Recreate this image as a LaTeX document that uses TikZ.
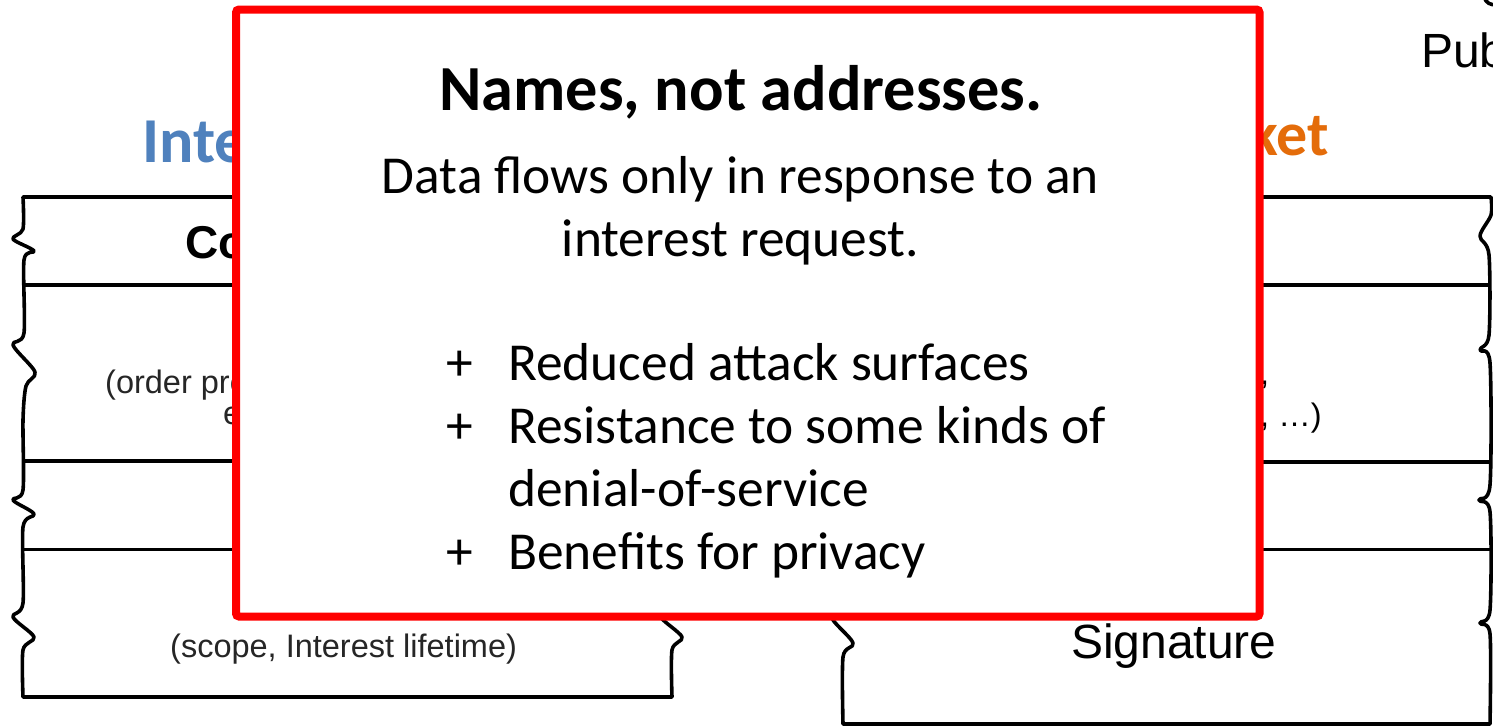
\documentclass[tikz,border=0pt]{standalone}
\usepackage{fontspec}
\setmainfont{Carlito}
\newfontfamily\arialfont{Liberation Sans}
\definecolor{intblue}{HTML}{4F81BD}
\definecolor{dataorange}{HTML}{E46C0A}
\definecolor{calloutred}{HTML}{FF0000}
\tikzset{
  torn/.style={line width=3.6pt, line join=round, line cap=round},
  fieldrule/.style={line width=4pt},
  thinrule/.style={line width=3pt},
  smallfrag/.style={font=\arialfont\fontsize{32.5}{32.5}\selectfont, text=black!85, inner sep=0pt, anchor=base west},
  bigfrag/.style={font=\arialfont\fontsize{48}{48}\selectfont, inner sep=0pt, anchor=base west},
  boldfrag/.style={font=\arialfont\bfseries\fontsize{46}{46}\selectfont, inner sep=0pt, anchor=base west},
  heading/.style={font=\bfseries\fontsize{64}{64}\selectfont, inner sep=0pt, anchor=base west},
  calloutbox/.style={draw=calloutred, line width=8pt, fill=white, rounded corners=3pt, inner sep=0pt},
  headline/.style={font=\bfseries\fontsize{64.3}{64.3}\selectfont, inner sep=0pt, anchor=base},
  bodyline/.style={font=\fontsize{53.4}{53.4}\selectfont, inner sep=0pt, anchor=base},
  plussign/.style={font=\fontsize{53.4}{53.4}\selectfont, inner sep=0pt, anchor=base},
  itemline/.style={font=\fontsize{53.4}{53.4}\selectfont, inner sep=0pt, anchor=base west},
}
\begin{document}
\begin{tikzpicture}[x=1pt, y=-1pt]
\useasboundingbox (0,0) rectangle (1493,726);
\clip (0,0) rectangle (1493,726);
\fill[white] (0,0) rectangle (1493,726);

% ---------- Interest packet (left) ----------
\draw[torn] plot[smooth, tension=0.5] coordinates {
  (23,197) (23,229) (13,239) (34,251) (24,260) (24,333) (13,345) (35,372)
  (26,386) (23,420) (23,490) (13,500) (34,514) (23,527) (23,603) (13,617)
  (34,637) (23,650) (23,697)};
\draw[torn] plot[smooth, tension=0.5] coordinates {
  (672,197) (672,229) (661,239) (682,251) (672,260) (672,333) (661,345)
  (683,372) (674,386) (672,420) (672,490) (661,500) (682,514) (672,527)
  (672,605) (661,617) (682,637) (672,650) (672,697)};
\draw[fieldrule] (23,197) -- (672,197);
\draw[fieldrule] (23,285) -- (672,285);
\draw[fieldrule] (23,461) -- (672,461);
\draw[thinrule]  (23,549) -- (672,549);
\draw[fieldrule] (23,697) -- (672,697);

\node[heading, text=intblue] (inthead) at (142,162) {Inte};
\node[boldfrag] (intname) at (185,258) {Co};
\node[smallfrag] (intsel1) at (105,393) {(order pre};
\node[smallfrag] (intsel2) at (223,424) {e};
\node[smallfrag] (intguide) at (170,657) {(scope, Interest lifetime)};

% ---------- Data packet (right) ----------
\draw[torn] plot[smooth, tension=0.5] coordinates {
  (843,197) (843,229) (832,239) (853,251) (843,260) (843,333) (832,345)
  (854,372) (845,386) (843,420) (843,490) (832,500) (853,514) (843,527)
  (843,605) (832,618) (853,643) (843,657) (843,724)};
\draw[torn] plot[smooth, tension=0.5] coordinates {
  (1491,197) (1491,215) (1480,236) (1489,255) (1489,335) (1480,350)
  (1490,363) (1490,485) (1479,500) (1490,512) (1490,610) (1480,623)
  (1490,634) (1490,724)};
\draw[fieldrule] (843,197) -- (1491,197);
\draw[fieldrule] (843,285) -- (1490,285);
\draw[fieldrule] (843,462) -- (1490,462);
\draw[thinrule]  (843,549) -- (1490,549);
\draw[fieldrule] (843,724) -- (1490,724);
\draw[torn] (1484,-3) .. controls (1486,3) and (1490,5) .. (1497,5);

\node[heading, text=dataorange, font=\bfseries\fontsize{62}{62}\selectfont] (datahead) at (1248,155) {ket};
\node[bigfrag] (datapub) at (1421,67) {Pub};
\node[smallfrag, text=black] (datainfo1) at (1260,384) {,};
\node[smallfrag, text=black] (datainfo2) at (1260,426) {, …)};
\node[bigfrag] (datasig) at (1071,658) {Signature};

% ---------- Call-out ----------
\node[calloutbox, minimum width=1023.5pt, minimum height=607pt] (callout) at (747.75,313) {};
\node[headline] (cotitle) at (741,110) {Names, not addresses.};
\node[bodyline] (coline1) at (740.5,193) {Data flows only in response to an};
\node[bodyline] (coline2) at (740.5,256) {interest request.};

\node[plussign] (plusA) at (460,380) {+};
\node[itemline] (itemA) at (508,380) {Reduced attack surfaces};
\node[plussign] (plusB) at (460,443) {+};
\node[itemline] (itemB) at (508,443) {Resistance to some kinds of};
\node[itemline] (itemBb) at (508,506) {denial-of-service};
\node[plussign] (plusC) at (460,569) {+};
\node[itemline] (itemC) at (508,569) {Benefits for privacy};
\end{tikzpicture}
\end{document}
